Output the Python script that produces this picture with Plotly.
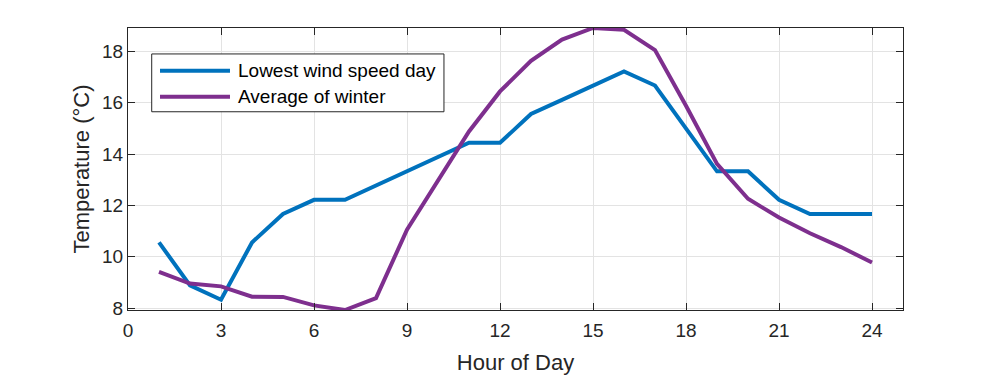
import plotly.graph_objects as go

# hourly temperatures (degC)
hours = list(range(1, 25))
lowest_wind = [10.56, 8.89, 8.33, 10.56, 11.67, 12.22, 12.22, 12.78, 13.33, 13.89, 14.44, 14.44,
               15.56, 16.11, 16.67, 17.22, 16.67, 15.0, 13.33, 13.33, 12.22, 11.67, 11.67, 11.67]
winter_avg = [9.41, 8.96, 8.85, 8.45, 8.44, 8.11, 7.93, 8.39, 11.06, 12.98, 14.88, 16.44,
              17.63, 18.46, 18.91, 18.84, 18.05, 15.88, 13.62, 12.26, 11.53, 10.92, 10.38, 9.78]
series_names = ['Lowest wind speed day', 'Average of winter']
x_ticks = [0, 3, 6, 9, 12, 15, 18, 21, 24]
y_ticks = [8, 10, 12, 14, 16, 18]

blue = '#0072BD'
purple = '#7E2F8E'
axcol = '#262626'
font = 'Liberation Sans, Arial, sans-serif'

fig = go.Figure()
fig.add_trace(go.Scatter(x=hours, y=lowest_wind, mode='lines', name=series_names[0],
                         line=dict(color=blue, width=4)))
fig.add_trace(go.Scatter(x=hours, y=winter_avg, mode='lines', name=series_names[1],
                         line=dict(color=purple, width=4)))

ymin = min(lowest_wind + winter_avg)
ymax = max(lowest_wind + winter_avg)

axis_common = dict(showline=True, linecolor=axcol, linewidth=1.3, mirror='ticks',
                   ticks='inside', ticklen=7, tickcolor=axcol, tickwidth=1.3,
                   showgrid=True, gridcolor='#e3e3e3', gridwidth=1, zeroline=False,
                   automargin=False,
                   tickfont=dict(family=font, size=19, color=axcol))

fig.update_xaxes(range=[0, 25], tickvals=x_ticks, ticklabelstandoff=3,
                 title=dict(text='Hour of Day', font=dict(family=font, size=22, color=axcol), standoff=14),
                 **axis_common)
fig.update_yaxes(range=[ymin, ymax], tickvals=y_ticks,
                 title=dict(text='Temperature (°C)', font=dict(family=font, size=22, color=axcol), standoff=6),
                 **axis_common)

# legend drawn by hand so the sample lines are long like the original
box = dict(x0=0.0306, x1=0.4077, y0=0.703, y1=0.908)
fig.add_shape(type='rect', xref='paper', yref='paper', fillcolor='white',
              line=dict(color=axcol, width=1), layer='above', **box)
leg_y = [0.8486, 0.7564]
for name, col, yy in zip(series_names, [blue, purple], leg_y):
    fig.add_shape(type='line', xref='paper', yref='paper', x0=0.0413, x1=0.1316, y0=yy, y1=yy,
                  line=dict(color=col, width=4), layer='above')
    fig.add_annotation(text=name, xref='paper', yref='paper', x=0.1395, y=yy, xanchor='left',
                       yanchor='middle', showarrow=False,
                       font=dict(family=font, size=19, color='black'))

# page body has an 8px margin, so the figure is a bit smaller than the window
fig.update_layout(width=988, height=367, margin=dict(l=120, r=93, t=20, b=65),
                  paper_bgcolor='white', plot_bgcolor='white', showlegend=False)

fig.write_html('out.html')
